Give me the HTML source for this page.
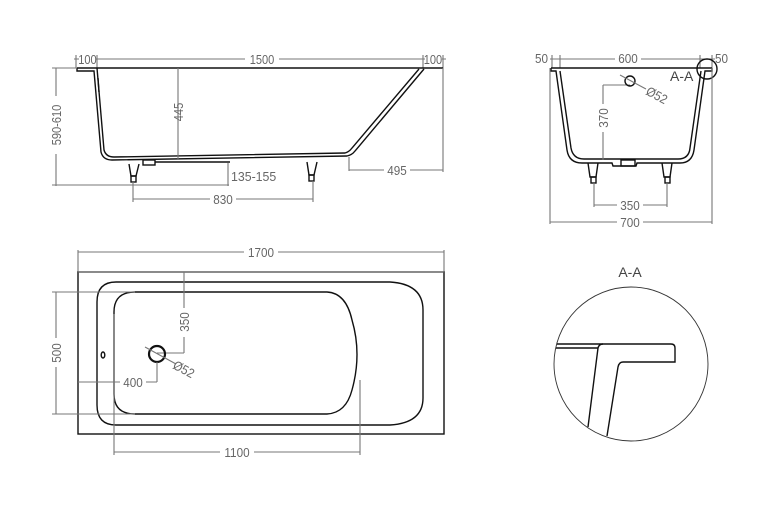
<!DOCTYPE html>
<html><head><meta charset="utf-8"><style>
html,body{margin:0;padding:0;background:#fff;}
svg{display:block}
text{font-family:"Liberation Sans",sans-serif;font-size:13px;fill:#666;}
.d{stroke:#777;stroke-width:1.1;fill:none}
.o{stroke:#111;stroke-width:1.4;fill:none}
.ob{stroke:#111;stroke-width:2.2;fill:none}
</style></head><body>
<svg width="780" height="513" viewBox="0 0 780 513" xmlns="http://www.w3.org/2000/svg">
<rect width="780" height="513" fill="#fff"/>
<line class="d" x1="74" y1="59" x2="446" y2="59"/>
<line class="d" x1="76" y1="55" x2="76" y2="68"/>
<line class="d" x1="97" y1="55" x2="97" y2="68"/>
<line class="d" x1="423" y1="55" x2="423" y2="68"/>
<line class="d" x1="443" y1="55" x2="443" y2="68"/>
<rect x="79" y="52" width="17" height="13" fill="#fff"/>
<text x="87.5" y="64" text-anchor="middle" transform="translate(87.5 0) scale(0.85 1) translate(-87.5 0)">100</text>
<rect x="245" y="52" width="34" height="13" fill="#fff"/>
<text x="262" y="64" text-anchor="middle" transform="translate(262 0) scale(0.85 1) translate(-262 0)">1500</text>
<rect x="425" y="52" width="17" height="13" fill="#fff"/>
<text x="433" y="64" text-anchor="middle" transform="translate(433 0) scale(0.85 1) translate(-433 0)">100</text>
<line class="o" x1="77" y1="68" x2="443" y2="68"/>
<path class="o" d="M77 68 L77 71 L94 71 L101 152 Q103 160 112 160 L347 156 Q352 155 355 151 L424 69"/>
<path class="o" d="M97 68 L104 150 Q106 157 114 157 L345 153 Q349 152 352 148 L419 69"/>
<line class="o" x1="98" y1="78" x2="99" y2="92"/>
<rect x="143" y="160" width="12" height="5" class="o"/>
<line class="o" x1="155" y1="162" x2="230" y2="162"/>
<path class="o" d="M129 164 L131 176 L136 176 L139 164"/>
<rect x="131" y="176" width="5" height="6" class="o"/>
<path class="o" d="M307 162 L309 175 L314 175 L317 162"/>
<rect x="309" y="175" width="5" height="6" class="o"/>
<line class="d" x1="178" y1="68" x2="178" y2="160"/>
<text transform="translate(183 112) rotate(-90) scale(0.85 1)" text-anchor="middle">445</text>
<line class="d" x1="56" y1="68" x2="56" y2="186"/>
<line class="d" x1="52" y1="68" x2="77" y2="68"/>
<line class="d" x1="52" y1="185" x2="229" y2="185"/>
<rect x="49" y="96" width="13" height="58" fill="#fff"/>
<text transform="translate(61 125) rotate(-90) scale(0.85 1)" text-anchor="middle">590-610</text>
<line class="d" x1="228" y1="163" x2="228" y2="186"/>
<text x="231" y="181" transform="translate(231 0) scale(0.95 1) translate(-231 0)">135-155</text>
<line class="d" x1="133" y1="182" x2="133" y2="202"/>
<line class="d" x1="313" y1="181" x2="313" y2="202"/>
<line class="d" x1="133" y1="199" x2="313" y2="199"/>
<rect x="210" y="193" width="26" height="13" fill="#fff"/>
<text x="223" y="204" text-anchor="middle" transform="translate(223 0) scale(0.9 1) translate(-223 0)">830</text>
<line class="d" x1="349" y1="157" x2="349" y2="171"/>
<line class="d" x1="443" y1="68" x2="443" y2="172"/>
<line class="d" x1="349" y1="170" x2="443" y2="170"/>
<rect x="384" y="164" width="26" height="13" fill="#fff"/>
<text x="397" y="175" text-anchor="middle" transform="translate(397 0) scale(0.9 1) translate(-397 0)">495</text>

<line class="d" x1="550" y1="59" x2="715" y2="59"/>
<line class="d" x1="552" y1="55" x2="552" y2="68"/>
<line class="d" x1="560" y1="55" x2="560" y2="68"/>
<line class="d" x1="700" y1="55" x2="700" y2="68"/>
<line class="d" x1="712" y1="55" x2="712" y2="68"/>
<text x="535" y="63" transform="translate(535 0) scale(0.9 1) translate(-535 0)">50</text>
<rect x="615" y="52" width="26" height="13" fill="#fff"/>
<text x="628" y="63" text-anchor="middle" transform="translate(628 0) scale(0.9 1) translate(-628 0)">600</text>
<text x="715" y="63" transform="translate(715 0) scale(0.9 1) translate(-715 0)">50</text>
<line class="o" x1="551" y1="68" x2="712" y2="68"/>
<path class="o" d="M551 68 L551 71 L556 71 L567 150 Q569 163 582 163 L612 163 L613 166 L636 166 L637 163 L680 163 Q692 163 694 150 L705 71 L712 71 L712 68"/>
<path class="o" d="M560 71 L571 148 Q573 159 584 159 L678 159 Q689 159 690 148 L701 71"/>
<rect x="621" y="160" width="14" height="6" class="o"/>
<path class="o" d="M588 163 L590 177 L596 177 L598 163"/>
<rect x="591" y="177" width="5" height="6" class="o"/>
<path class="o" d="M662 163 L664 177 L670 177 L672 163"/>
<rect x="665" y="177" width="5" height="6" class="o"/>
<line class="d" x1="603" y1="85" x2="603" y2="160"/>
<line class="d" x1="603" y1="85" x2="630" y2="85"/>
<rect x="596" y="104" width="13" height="28" fill="#fff"/>
<text transform="translate(608 118) rotate(-90) scale(0.9 1)" text-anchor="middle">370</text>
<circle cx="630" cy="81" r="5" class="o"/>
<line class="d" x1="620" y1="75" x2="646" y2="89"/>
<text transform="translate(645 94) rotate(28) scale(0.9 1)">Ø52</text>
<circle cx="707" cy="69" r="10" class="o" stroke-width="1"/>
<text x="670" y="81" style="font-size:14px;fill:#444">A-A</text>
<line class="d" x1="594" y1="183" x2="594" y2="207"/>
<line class="d" x1="667" y1="183" x2="667" y2="207"/>
<line class="d" x1="594" y1="205" x2="667" y2="205"/>
<rect x="617" y="199" width="26" height="13" fill="#fff"/>
<text x="630" y="210" text-anchor="middle" transform="translate(630 0) scale(0.9 1) translate(-630 0)">350</text>
<line class="d" x1="550" y1="68" x2="550" y2="224"/>
<line class="d" x1="712" y1="68" x2="712" y2="224"/>
<line class="d" x1="550" y1="222" x2="712" y2="222"/>
<rect x="617" y="216" width="26" height="13" fill="#fff"/>
<text x="630" y="227" text-anchor="middle" transform="translate(630 0) scale(0.9 1) translate(-630 0)">700</text>

<line class="d" x1="78" y1="252" x2="444" y2="252"/>
<line class="d" x1="78" y1="250" x2="78" y2="272"/>
<line class="d" x1="444" y1="250" x2="444" y2="272"/>
<rect x="244" y="246" width="34" height="13" fill="#fff"/>
<text x="261" y="257" text-anchor="middle" transform="translate(261 0) scale(0.9 1) translate(-261 0)">1700</text>
<rect x="78" y="272" width="366" height="162" class="o"/>
<line class="d" x1="78" y1="272" x2="444" y2="272"/>
<path class="o" d="M116 282 L390 282 Q423 284 423 310 L423 398 Q423 423 390 425 L116 425 Q97 425 97 405 L97 302 Q97 282 116 282 Z"/>
<path class="o" d="M135 292 L327 292 Q346 293 352 320 Q362 354 352 390 Q346 413 327 414 L135 414 Q114 414 114 394 L114 312 Q114 292 135 292 Z"/>
<ellipse cx="103" cy="355" rx="1.8" ry="3" class="o" stroke-width="1"/>
<line class="d" x1="56" y1="292" x2="56" y2="414"/>
<line class="d" x1="52" y1="292" x2="135" y2="292"/>
<line class="d" x1="52" y1="414" x2="135" y2="414"/>
<rect x="49" y="338" width="13" height="29" fill="#fff"/>
<text transform="translate(61 353) rotate(-90) scale(0.9 1)" text-anchor="middle">500</text>
<line class="d" x1="184" y1="272" x2="184" y2="353"/>
<line class="d" x1="157" y1="353" x2="184" y2="353"/>
<rect x="177" y="308" width="13" height="29" fill="#fff"/>
<text transform="translate(189 322) rotate(-90) scale(0.9 1)" text-anchor="middle">350</text>
<circle cx="157" cy="354" r="8" class="ob"/>
<line class="d" x1="145" y1="347" x2="176" y2="364"/>
<text transform="translate(172 368) rotate(28) scale(0.9 1)">Ø52</text>
<line class="d" x1="78" y1="382" x2="157" y2="382"/>
<line class="d" x1="157" y1="362" x2="157" y2="382"/>
<rect x="120" y="376" width="26" height="13" fill="#fff"/>
<text x="133" y="387" text-anchor="middle" transform="translate(133 0) scale(0.9 1) translate(-133 0)">400</text>
<line class="d" x1="114" y1="314" x2="114" y2="455"/>
<line class="d" x1="360" y1="380" x2="360" y2="455"/>
<line class="d" x1="114" y1="452" x2="360" y2="452"/>
<rect x="220" y="446" width="34" height="13" fill="#fff"/>
<text x="237" y="457" text-anchor="middle" transform="translate(237 0) scale(0.9 1) translate(-237 0)">1100</text>

<text x="630" y="277" text-anchor="middle" style="font-size:14px;fill:#444">A-A</text>
<circle cx="631" cy="364" r="77" fill="none" stroke="#333" stroke-width="0.9"/>
<path class="o" d="M557 344 L671 344 Q675 344 675 348 L675 362 L623 362 Q619 362 618 367 L607 436"/>
<path class="o" d="M588 427 L598 348 Q599 344 603 344"/>
<line class="o" x1="556" y1="348" x2="598" y2="348"/>
</svg>
</body></html>
